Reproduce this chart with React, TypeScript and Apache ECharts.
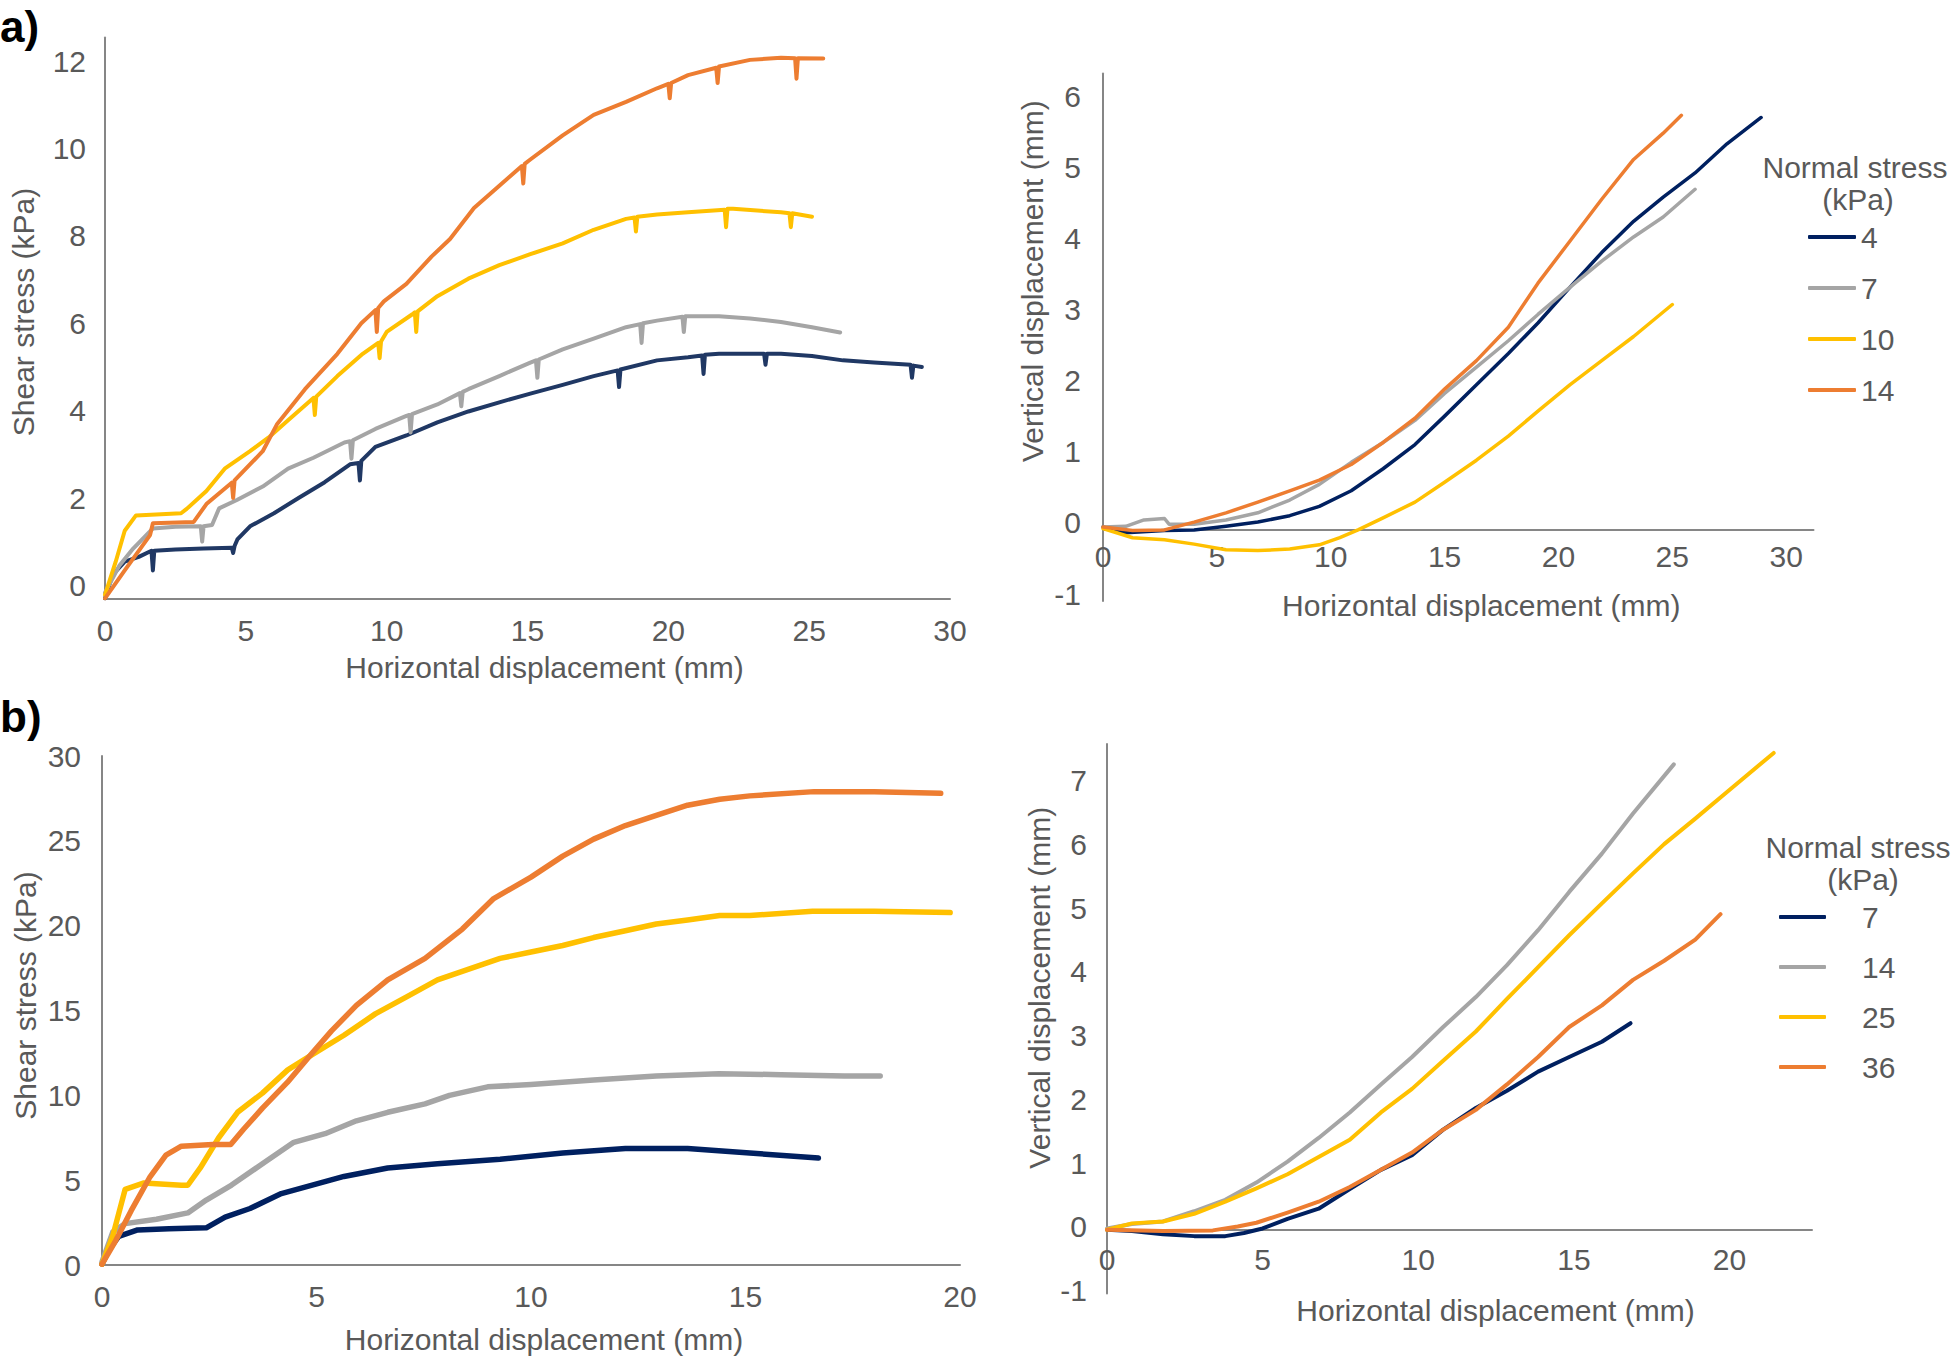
import React, { useEffect, useRef } from "react";
import * as echarts from "echarts";

type P = [number, number][];

// ---------- a) left: shear stress vs horizontal displacement ----------
const aShear4: P = [[0,0],[0.27,0.54],[0.7,0.84],[1.2,0.95],[1.65,1.09],[1.7,0.64],[1.75,1.09],[2.5,1.12],[3.5,1.14],[4.5,1.16],[4.55,1.04],[4.6,1.2],[4.7,1.35],[5.15,1.65],[6,1.95],[6.9,2.31],[7.8,2.66],[8.7,3.07],[9.0,3.1],[9.05,2.7],[9.1,3.15],[9.6,3.47],[10.7,3.73],[11.8,4.03],[12.9,4.28],[14,4.49],[15.1,4.69],[16.25,4.89],[17.35,5.09],[18.2,5.22],[18.25,4.84],[18.3,5.24],[19.6,5.45],[20.7,5.52],[21.2,5.56],[21.25,5.14],[21.3,5.58],[21.8,5.6],[23.4,5.6],[23.45,5.35],[23.5,5.6],[24,5.6],[25.1,5.55],[26.2,5.45],[27.3,5.4],[28.6,5.35],[28.65,5.05],[28.7,5.33],[29,5.3]];
const aShear7: P = [[0,0.13],[0.5,0.74],[1,1.14],[1.7,1.6],[2.5,1.64],[3.4,1.65],[3.45,1.3],[3.5,1.65],[3.8,1.68],[4.05,2.06],[4.7,2.26],[5.6,2.56],[6.5,2.97],[7.4,3.22],[8.5,3.57],[8.7,3.6],[8.75,3.2],[8.8,3.62],[9.6,3.88],[10.7,4.18],[10.8,4.2],[10.85,3.8],[10.9,4.22],[11.8,4.44],[12.6,4.7],[12.65,4.4],[12.7,4.73],[12.9,4.79],[14,5.09],[15.1,5.4],[15.3,5.45],[15.35,5.05],[15.4,5.47],[16.25,5.7],[17.35,5.95],[18.5,6.21],[19,6.28],[19.05,5.85],[19.1,6.3],[19.6,6.36],[20.5,6.45],[20.55,6.1],[20.6,6.46],[21.8,6.46],[22.9,6.41],[24,6.33],[25.1,6.21],[26.1,6.09]];
const aShear10: P = [[0,0.08],[0.38,0.84],[0.7,1.55],[1.1,1.9],[2.7,1.95],[2.9,2.05],[3.6,2.46],[4.25,2.97],[5.15,3.37],[5.8,3.68],[6.5,4.08],[7.4,4.59],[7.45,4.2],[7.5,4.62],[8.25,5.09],[9.15,5.6],[9.7,5.85],[9.75,5.5],[9.8,5.88],[10,6.1],[10.9,6.5],[11,6.55],[11.05,6.1],[11.1,6.57],[11.8,6.92],[12.9,7.32],[14,7.63],[15.1,7.88],[16.25,8.13],[17.35,8.44],[18.5,8.69],[18.8,8.72],[18.85,8.4],[18.9,8.74],[19.6,8.79],[20.7,8.84],[22,8.9],[22.05,8.5],[22.1,8.92],[22.3,8.92],[24,8.84],[24.3,8.82],[24.35,8.5],[24.4,8.82],[25.1,8.74]];
const aShear14: P = [[0,0],[0.7,0.64],[1.6,1.45],[1.7,1.72],[3.15,1.75],[3.6,2.16],[4.5,2.65],[4.55,2.3],[4.6,2.7],[5.6,3.37],[6.1,3.98],[7.1,4.79],[8.25,5.6],[9.1,6.3],[9.6,6.6],[9.65,6.1],[9.7,6.65],[9.9,6.8],[10.7,7.2],[11.6,7.83],[12.25,8.23],[13.1,8.94],[14,9.45],[14.8,9.9],[14.85,9.5],[14.9,9.95],[15.1,10.05],[16.25,10.6],[17.35,11.07],[18.5,11.37],[19.6,11.68],[20,11.78],[20.05,11.45],[20.1,11.8],[20.7,11.98],[21.7,12.15],[21.75,11.8],[21.8,12.18],[22.9,12.33],[24,12.38],[24.5,12.37],[24.55,11.9],[24.6,12.37],[25.5,12.36]];

// ---------- a) right: vertical vs horizontal displacement ----------
const aVert4: P = [[0,0.04],[1,-0.04],[2.7,-0.01],[4,0],[5.4,0.05],[6.8,0.11],[8.2,0.2],[9.5,0.33],[10.9,0.55],[12.3,0.86],[13.7,1.2],[15,1.6],[16.4,2.04],[17.8,2.48],[19.1,2.91],[20.5,3.41],[21.9,3.9],[23.3,4.34],[24.6,4.68],[26,5.02],[27.4,5.43],[28.9,5.8]];
const aVert7: P = [[0,0.04],[1,0.05],[1.8,0.14],[2.7,0.16],[2.9,0.08],[4,0.08],[5.4,0.14],[6.8,0.24],[8.2,0.42],[9.5,0.64],[10.9,0.95],[12.3,1.23],[13.7,1.54],[15,1.92],[16.4,2.29],[17.8,2.66],[19.1,3.03],[20.5,3.41],[21.9,3.78],[23.3,4.12],[24.6,4.4],[26.0,4.79]];
const aVert10: P = [[0,0.02],[1.3,-0.11],[2.7,-0.14],[4,-0.2],[5.4,-0.28],[6.8,-0.29],[8.2,-0.27],[9.5,-0.21],[10.4,-0.11],[11.2,0],[12.3,0.17],[13.7,0.39],[15,0.67],[16.4,0.98],[17.8,1.32],[19.1,1.67],[20.5,2.04],[21.9,2.38],[23.3,2.72],[25.0,3.17]];
const aVert14: P = [[0,0.04],[1.3,-0.01],[2.7,0],[4,0.11],[5.4,0.24],[6.8,0.39],[8.2,0.55],[9.5,0.7],[10.9,0.92],[12.3,1.23],[13.7,1.57],[15,1.98],[16.4,2.38],[17.8,2.85],[19.1,3.47],[20.5,4.06],[21.9,4.65],[23.3,5.21],[24.6,5.58],[25.4,5.83]];

// ---------- b) left: shear stress vs horizontal displacement ----------
const bShear7: P = [[0,0.05],[0.17,0.93],[0.39,1.69],[0.83,2.07],[1.56,2.14],[2.43,2.19],[2.87,2.82],[3.45,3.33],[4.18,4.21],[4.9,4.71],[5.64,5.22],[6.66,5.72],[7.82,5.97],[9.28,6.23],[10.74,6.6],[12.2,6.86],[13.65,6.86],[15.1,6.6],[16.7,6.3]];
const bShear14: P = [[0,0.18],[0.25,1.94],[0.54,2.44],[1.27,2.7],[2,3.07],[2.43,3.83],[3.02,4.71],[3.74,5.97],[4.47,7.23],[5.2,7.74],[5.93,8.5],[6.66,9],[7.53,9.5],[8.1,10],[8.99,10.5],[10,10.64],[11.46,10.9],[12.92,11.14],[14.38,11.27],[15.83,11.22],[17.3,11.14],[18.14,11.14]];
const bShear25: P = [[0,0.05],[0.25,1.7],[0.54,4.46],[0.98,4.84],[1.85,4.7],[2,4.7],[2.29,5.72],[2.72,7.5],[3.16,9],[3.74,10.13],[4.33,11.5],[4.9,12.4],[5.64,13.54],[6.37,14.8],[7.1,15.8],[7.82,16.8],[8.55,17.44],[9.28,18.07],[10,18.45],[10.74,18.83],[11.46,19.3],[12.2,19.7],[12.92,20.1],[13.65,20.34],[14.4,20.6],[15.1,20.6],[16.56,20.85],[18,20.85],[19.77,20.77]];
const bShear36: P = [[0,0.05],[0.32,1.44],[0.68,3.2],[1.12,5.2],[1.49,6.48],[1.85,7],[2.58,7.1],[3.0,7.1],[3.3,8],[3.74,9.25],[4.32,10.76],[4.9,12.5],[5.35,13.8],[5.93,15.3],[6.66,16.8],[7.53,18.07],[8.4,19.8],[9.13,21.6],[10,22.86],[10.74,24.1],[11.46,25.1],[12.2,25.9],[12.92,26.5],[13.65,27.1],[14.4,27.45],[15.1,27.65],[16.6,27.9],[18,27.9],[19.55,27.8]];

// ---------- b) right: vertical vs horizontal displacement ----------
const bVert7: P = [[0,0],[0.8,-0.02],[1.8,-0.07],[2.8,-0.1],[3.8,-0.1],[4.4,-0.05],[5,0.02],[5.8,0.17],[6.8,0.33],[7.8,0.64],[8.8,0.94],[9.8,1.17],[10.8,1.57],[11.85,1.91],[12.85,2.18],[13.85,2.48],[14.85,2.71],[15.9,2.95],[16.82,3.24]];
const bVert14: P = [[0,0.02],[0.8,0.09],[1.8,0.13],[2.8,0.29],[3.8,0.47],[4.8,0.74],[5.8,1.07],[6.8,1.44],[7.8,1.84],[8.8,2.28],[9.8,2.71],[10.8,3.18],[11.85,3.65],[12.85,4.15],[13.85,4.7],[14.85,5.3],[15.9,5.9],[16.9,6.53],[18.21,7.3]];
const bVert25: P = [[0,0],[0.8,0.1],[1.8,0.13],[2.8,0.25],[3.8,0.44],[4.8,0.65],[5.8,0.87],[6.8,1.14],[7.8,1.41],[8.8,1.84],[9.8,2.21],[10.8,2.65],[11.85,3.11],[12.85,3.62],[13.85,4.12],[14.85,4.62],[15.9,5.12],[16.9,5.59],[17.9,6.05],[18.9,6.45],[19.9,6.86],[21.42,7.48]];
const bVert36: P = [[0,0],[1.8,-0.02],[3.4,-0.01],[4.2,0.05],[4.8,0.11],[5.8,0.27],[6.8,0.44],[7.8,0.67],[8.8,0.94],[9.8,1.21],[10.8,1.57],[11.85,1.88],[12.85,2.28],[13.85,2.71],[14.85,3.18],[15.9,3.52],[16.9,3.92],[17.9,4.22],[18.9,4.55],[19.71,4.95]];

// Tick intervals / extents
const aShearTicks = { min: 0, max: 12.84, interval: 2 };
const aDispTicks = { min: 0, max: 30, interval: 5 };
const aVertTicks = { min: -1, max: 6.42, interval: 1 };
const aVertXTicks = { min: 0, max: 31.2, interval: 5 };
const bShearTicks = { min: 0, max: 30, interval: 5 };
const bDispTicks = { min: 0, max: 20, interval: 5 };
const bVertTicks = { min: -1, max: 7.62, interval: 1 };
const bVertXTicks = { min: 0, max: 22.65, interval: 5 };

const legendA = ["4", "7", "10", "14"];
const legendB = ["7", "14", "25", "36"];

const NAVY_A = "#203864";
const NAVY = "#002060";
const GRAY = "#A5A5A5";
const YELLOW = "#FFC000";
const ORANGE = "#ED7D31";
const TXT = "#595959";
const AXIS = "#868686";
const FONT = "'Liberation Sans', Arial, Helvetica, sans-serif";

const fmt = (iv: number) => (v: number) =>
  Math.abs(v / iv - Math.round(v / iv)) < 1e-6 ? String(Math.round(v)) : "";

function xAxis(grid: number, t: any, margin: number, nameGap: number, shift: number, offset: number) {
  return {
    type: "value",
    gridIndex: grid,
    min: t.min,
    max: t.max,
    interval: t.interval,
    offset,
    axisLine: { show: true, onZero: false, lineStyle: { color: AXIS, width: 2 } },
    axisTick: { show: false },
    splitLine: { show: false },
    axisLabel: { fontSize: 30, color: TXT, fontFamily: FONT, margin, formatter: fmt(t.interval), showMinLabel: true, showMaxLabel: true },
    name: "Horizontal displacement (mm)",
    nameLocation: "middle",
    nameGap,
    nameTextStyle: { fontSize: 30, color: TXT, fontFamily: FONT, padding: [0, 0, 0, shift * 2] },
  };
}

function yAxis(grid: number, t: any, name: string, margin: number, labelUp: number, nameGap: number, up: number) {
  const lbl: any = { fontSize: 30, color: TXT, fontFamily: FONT, margin, formatter: fmt(t.interval), showMinLabel: true, showMaxLabel: true };
  if (labelUp > 0) {
    lbl.verticalAlign = "bottom";
    lbl.lineHeight = labelUp * 2;
  }
  return {
    type: "value",
    gridIndex: grid,
    min: t.min,
    max: t.max,
    interval: t.interval,
    axisLine: { show: true, onZero: false, lineStyle: { color: AXIS, width: 2 } },
    axisTick: { show: false },
    splitLine: { show: false },
    axisLabel: lbl,
    name,
    nameLocation: "middle",
    nameGap,
    nameTextStyle: { fontSize: 30, color: TXT, fontFamily: FONT, padding: [0, 0, 0, up * 2] },
  };
}

function line(name: string, data: P, idx: number, color: string, width: number) {
  return {
    type: "line",
    name,
    data,
    xAxisIndex: idx,
    yAxisIndex: idx,
    showSymbol: false,
    symbol: "none",
    silent: true,
    lineStyle: { color, width, cap: "round", join: "round" },
    itemStyle: { color },
    emphasis: { disabled: true },
  };
}

function legend(names: string[], left: number, top: number, itemWidth: number, textPad: number, gap: number) {
  return {
    data: names,
    orient: "vertical",
    left,
    top,
    icon: "roundRect",
    itemWidth,
    itemHeight: 4,
    itemGap: gap,
    selectedMode: false,
    itemStyle: { borderWidth: 0 },
    formatter: (n: string) => n.split("-")[1],
    textStyle: { fontSize: 30, color: TXT, fontFamily: FONT, padding: [0, 0, 0, textPad], lineHeight: 30 },
  };
}

export default function App() {
  const ref = useRef<HTMLDivElement>(null);
  useEffect(() => {
    if (!ref.current) return;
    const chart = echarts.init(ref.current, undefined, { renderer: "svg" });
    const option: any = {
      animation: false,
      backgroundColor: "#ffffff",
      textStyle: { fontFamily: FONT },
      grid: [
        { left: 105, top: 37.6, width: 845, height: 560.8, outerBoundsMode: "none" },
        { left: 1103, top: 73.4, width: 710.5, height: 527.6, outerBoundsMode: "none" },
        { left: 102, top: 756, width: 858, height: 509, outerBoundsMode: "none" },
        { left: 1107, top: 744, width: 705, height: 549.5, outerBoundsMode: "none" },
      ],
      xAxis: [
        xAxis(0, aDispTicks, 17, 54, 17, 0),
        xAxis(1, aVertXTicks, 12, 61, 23, -71.1),
        xAxis(2, bDispTicks, 16, 59, 13, 0),
        xAxis(3, bVertXTicks, 15, 66, 36, -63.7),
      ],
      yAxis: [
        yAxis(0, aShearTicks, "Shear stress (kPa)", 19, 13, 67, 6),
        yAxis(1, aVertTicks, "Vertical displacement (mm)", 22, 7, 56, 56),
        yAxis(2, bShearTicks, "Shear stress (kPa)", 21, 0, 62, 15),
        yAxis(3, bVertTicks, "Vertical displacement (mm)", 20, 3, 53, 31),
      ],
      legend: [
        legend(legendA.map((s) => "aV-" + s), 1803, 217, 48, 0, 21),
        legend(legendB.map((s) => "bV-" + s), 1774, 897, 47, 31, 20),
      ],
      graphic: [
        { type: "text", left: 0, top: 4, style: { text: "a)", fontSize: 44, fontWeight: "bold", fill: "#000", fontFamily: FONT } },
        { type: "text", left: 0, top: 694, style: { text: "b)", fontSize: 44, fontWeight: "bold", fill: "#000", fontFamily: FONT } },
        { type: "text", x: 1855, y: 167, style: { text: "Normal stress", fontSize: 30, fill: TXT, fontFamily: FONT, align: "center", verticalAlign: "middle" } },
        { type: "text", x: 1858, y: 199, style: { text: "(kPa)", fontSize: 30, fill: TXT, fontFamily: FONT, align: "center", verticalAlign: "middle" } },
        { type: "text", x: 1858, y: 847, style: { text: "Normal stress", fontSize: 30, fill: TXT, fontFamily: FONT, align: "center", verticalAlign: "middle" } },
        { type: "text", x: 1863, y: 879, style: { text: "(kPa)", fontSize: 30, fill: TXT, fontFamily: FONT, align: "center", verticalAlign: "middle" } },
      ],
      series: [
        line("aS-4", aShear4, 0, NAVY_A, 4),
        line("aS-7", aShear7, 0, GRAY, 4),
        line("aS-10", aShear10, 0, YELLOW, 4),
        line("aS-14", aShear14, 0, ORANGE, 4),
        line("aV-4", aVert4, 1, NAVY, 3.5),
        line("aV-7", aVert7, 1, GRAY, 3.5),
        line("aV-10", aVert10, 1, YELLOW, 3.5),
        line("aV-14", aVert14, 1, ORANGE, 3.5),
        line("bS-7", bShear7, 2, NAVY, 5.5),
        line("bS-14", bShear14, 2, GRAY, 5.5),
        line("bS-25", bShear25, 2, YELLOW, 5.5),
        line("bS-36", bShear36, 2, ORANGE, 5.5),
        line("bV-7", bVert7, 3, NAVY, 4),
        line("bV-14", bVert14, 3, GRAY, 4),
        line("bV-25", bVert25, 3, YELLOW, 4),
        line("bV-36", bVert36, 3, ORANGE, 4),
      ],
    };
    chart.setOption(option);
    return () => chart.dispose();
  }, []);
  return (
    <div
      ref={ref}
      style={{ position: "absolute", left: 0, top: 0, width: 1952, height: 1356, background: "#fff" }}
    />
  );
}
